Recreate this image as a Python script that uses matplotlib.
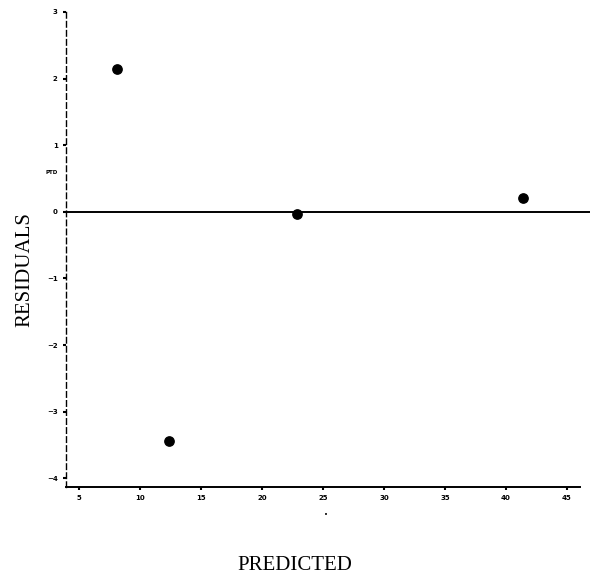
import matplotlib
matplotlib.use("Agg")
import matplotlib.pyplot as plt

predicted = [8.1, 12.4, 22.9, 41.4]
residuals = [2.15, -3.44, -0.03, 0.21]
xticks = [5, 10, 15, 20, 25, 30, 35, 40, 45]
yticks = [-4, -3, -2, -1, 0, 1, 2, 3]

fig = plt.figure(figsize=(5.9, 5.77), dpi=100)
ax = fig.add_axes([66/590, 1-487/577, (580-66)/590, (487-10)/577])
ax.set_xlim(3.93, 46.07)
ax.set_ylim(-4.13, 3.03)

ax.scatter(predicted, residuals, s=45, color="black", zorder=3)
ax.axhline(0, xmin=0, xmax=1.02, color="black", lw=1.4, clip_on=False)

for s in ["top", "right"]:
    ax.spines[s].set_visible(False)
ax.spines["left"].set_linestyle((0, (4, 2.5)))
ax.spines["left"].set_linewidth(1.0)
ax.spines["bottom"].set_linewidth(1.4)

ax.set_xticks(xticks)
ax.set_yticks(yticks)
ax.tick_params(axis="both", length=2, width=1.5, labelsize=5, pad=4)
for lab in ax.get_xticklabels() + ax.get_yticklabels():
    lab.set_fontweight("bold")

ax.text(-0.027, 0.66, "PTD", transform=ax.transAxes, fontsize=4, fontweight="bold",
        ha="center", va="center")
ax.text(0.506, -0.059, "•", transform=ax.transAxes, fontsize=5, ha="center", va="center")

fig.text(25/590, 1-270/577, "RESIDUALS", rotation=90, fontsize=15,
         family="Liberation Serif", ha="center", va="center")
fig.text(295/590, 1-565/577, "PREDICTED", fontsize=15,
         family="Liberation Serif", ha="center", va="center")

fig.savefig("out.png", dpi=100)
